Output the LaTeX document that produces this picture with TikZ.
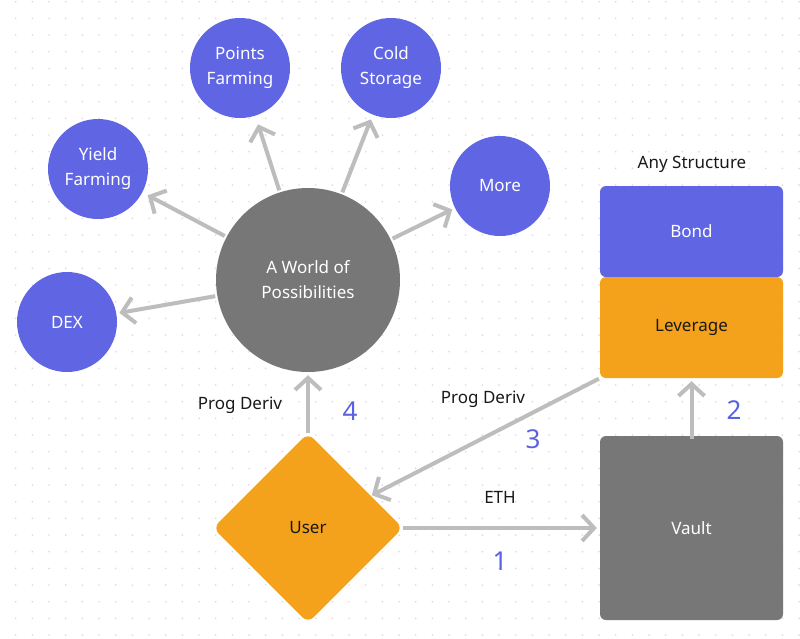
\documentclass[tikz,border=0pt]{standalone}
\usepackage{fontspec}
\setmainfont{Noto Sans}
\usetikzlibrary{arrows.meta,shapes.geometric}
\definecolor{cblue}{HTML}{6066E3}
\definecolor{cnum}{HTML}{5B62E0}
\definecolor{cgray}{HTML}{777777}
\definecolor{corange}{HTML}{F4A11C}
\definecolor{carrow}{HTML}{BDBDBD}
\definecolor{cdot}{HTML}{DADADA}
\tikzset{
  bub/.style={circle,fill=cblue,minimum size=100pt,inner sep=0pt,text=white,align=center,font=\fontsize{17}{25}\selectfont},
  box/.style={rectangle,rounded corners=6pt,minimum width=183pt,inner sep=0pt,align=center,font=\fontsize{17}{20}\selectfont},
  conn/.style={draw=carrow,line width=4pt,-{Straight Barb[length=12pt,width=26pt,line width=4pt]},shorten >=3pt,shorten <=2pt},
  lbl/.style={font=\fontsize{17}{20}\selectfont,text=black!90},
  num/.style={font=\fontsize{26}{30}\selectfont,text=cnum}
}
\begin{document}
\begin{tikzpicture}[x=1pt,y=-1pt]
\useasboundingbox (0,0) rectangle (800,638);
\fill[white] (0,0) rectangle (800,638);
\foreach \i in {0,...,47}{
  \foreach \j in {0,...,38}{
    \fill[cdot] ({15.7+16.667*\i},{1.7+16.667*\j}) circle (0.9pt);
  }
}
% nodes
\node[bub] (dex) at (67,322) {DEX};
\node[bub] (yield) at (98,169) {Yield\\Farming};
\node[bub] (points) at (240,68) {Points\\Farming};
\node[bub] (cold) at (391,68) {Cold\\Storage};
\node[bub] (more) at (500,186) {More};
\node[circle,fill=cgray,minimum size=184pt,inner sep=0pt,text=white,align=center,font=\fontsize{17}{25}\selectfont] (world) at (308,280) {A World of\\Possibilities};
\node[diamond,aspect=1,fill=corange,minimum width=190pt,minimum height=190pt,inner sep=0pt,rounded corners=8pt,text=black!90,font=\fontsize{17}{20}\selectfont] (user) at (308,528) {User};
\node[box,fill=cgray,minimum height=184pt,text=white] (vault) at (691.5,528) {Vault};
\node[box,fill=cblue,minimum height=91pt,text=white] (bond) at (691.5,231.5) {Bond};
\node[box,fill=corange,minimum height=101pt,text=black!90] (lev) at (691.5,327.5) {Leverage};
\node[lbl] (anys) at (692,164) {Any Structure};
% connectors
\draw[conn] (world) -- (dex);
\draw[conn,shorten >=6pt] (world) -- (yield);
\draw[conn,shorten >=9pt] (world) -- (points);
\draw[conn,shorten >=5pt] (world) -- (cold);
\draw[conn] (world) -- (more);
\draw[conn,shorten <=0pt] (user.north) -- (world.south);
\draw[conn,shorten <=0pt] (user.east) -- (vault.west);
\draw[conn,shorten <=-3pt] (vault.north) -- (lev.south);
\draw[conn,shorten <=1pt,shorten >=1pt] (lev.south west) -- (user);
% labels
\node[lbl] (l4) at (240,405) {Prog Deriv};
\node[num] (n4) at (350,411) {4};
\node[lbl] (l3) at (483,399) {Prog Deriv};
\node[num] (n3) at (533,439) {3};
\node[lbl] (leth) at (500,497) {ETH};
\node[num] (n1) at (500,561) {1};
\node[num] (n2) at (734,410) {2};
\end{tikzpicture}
\end{document}
